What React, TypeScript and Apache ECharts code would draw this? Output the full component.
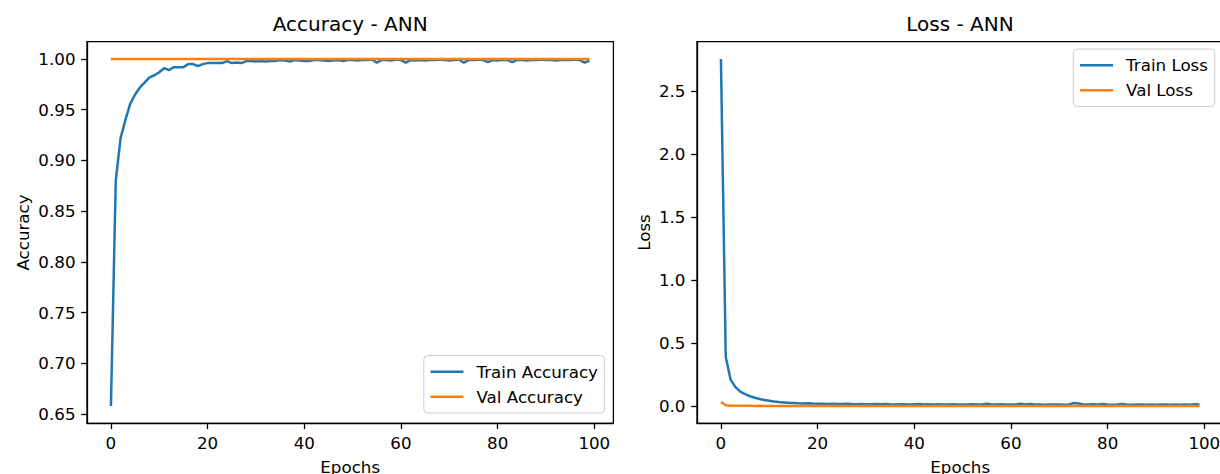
import React, { useEffect, useRef } from "react";
import * as echarts from "echarts";

// ---------- data ----------
const accTrain: number[] = [
  0.6579, 0.880, 0.922, 0.940, 0.956, 0.965, 0.972, 0.977, 0.982, 0.984,
  0.987, 0.991, 0.989, 0.992, 0.992, 0.992, 0.995, 0.995, 0.993, 0.995,
  0.996, 0.996, 0.996, 0.996, 0.998, 0.996, 0.9965, 0.996, 0.998, 0.998,
  0.9975, 0.998, 0.9975, 0.998, 0.998, 0.999, 0.9985, 0.9975, 0.999, 0.9985,
  0.998, 0.998, 0.999, 0.999, 0.9985, 0.998, 0.9985, 0.999, 0.998, 0.999,
  0.999, 0.9985, 0.999, 0.999, 0.9995, 0.9965, 0.999, 0.999, 0.9985, 0.9995,
  0.999, 0.9965, 0.999, 0.9985, 0.999, 0.9985, 0.999, 0.999, 0.9995, 0.999,
  0.9985, 0.999, 0.9995, 0.9965, 0.999, 0.999, 0.9995, 0.999, 0.997, 0.999,
  0.9985, 0.999, 0.999, 0.997, 0.999, 0.999, 0.9985, 0.999, 0.999, 0.9995,
  0.999, 0.999, 0.9985, 0.999, 0.999, 0.999, 0.9995, 0.999, 0.9965, 0.9985,
];
const accVal: number[] = [
  1, 1, 1, 1, 1, 1, 1, 1, 1, 1, 1, 1, 1, 1, 1, 1, 1, 1, 1, 1,
  1, 1, 1, 1, 1, 1, 1, 1, 1, 1, 1, 1, 1, 1, 1, 1, 1, 1, 1, 1,
  1, 1, 1, 1, 1, 1, 1, 1, 1, 1, 1, 1, 1, 1, 1, 1, 1, 1, 1, 1,
  1, 1, 1, 1, 1, 1, 1, 1, 1, 1, 1, 1, 1, 1, 1, 1, 1, 1, 1, 1,
  1, 1, 1, 1, 1, 1, 1, 1, 1, 1, 1, 1, 1, 1, 1, 1, 1, 1, 1, 1,
];
const lossTrain: number[] = [
  2.752, 0.39, 0.21, 0.15, 0.115, 0.095, 0.078, 0.066, 0.056, 0.048,
  0.042, 0.036, 0.032, 0.029, 0.026, 0.024, 0.022, 0.021, 0.023, 0.020,
  0.019, 0.018, 0.017, 0.019, 0.017, 0.016, 0.018, 0.016, 0.015, 0.016,
  0.015, 0.014, 0.016, 0.015, 0.017, 0.014, 0.013, 0.015, 0.014, 0.013,
  0.015, 0.016, 0.013, 0.014, 0.013, 0.015, 0.012, 0.013, 0.014, 0.012,
  0.013, 0.012, 0.014, 0.013, 0.012, 0.019, 0.013, 0.012, 0.014, 0.012,
  0.013, 0.012, 0.018, 0.013, 0.016, 0.012, 0.013, 0.011, 0.012, 0.013,
  0.012, 0.011, 0.013, 0.024, 0.021, 0.013, 0.012, 0.014, 0.012, 0.016,
  0.012, 0.011, 0.013, 0.016, 0.012, 0.011, 0.012, 0.013, 0.011, 0.012,
  0.011, 0.013, 0.012, 0.011, 0.012, 0.011, 0.012, 0.011, 0.015, 0.012,
];
const lossVal: number[] = [
  0.033, 0.006, 0.003, 0.002, 0.002, 0.002, 0.002, 0.001, 0.002, 0.001,
  0.001, 0.001, 0.001, 0.001, 0.001, 0.001, 0.001, 0.001, 0.001, 0.001,
  0.001, 0.001, 0.001, 0.001, 0.001, 0.001, 0.001, 0.001, 0.001, 0.001,
  0.001, 0.001, 0.001, 0.001, 0.001, 0.001, 0.001, 0.001, 0.001, 0.001,
  0.001, 0.001, 0.001, 0.001, 0.001, 0.001, 0.001, 0.001, 0.001, 0.001,
  0.001, 0.001, 0.001, 0.001, 0.001, 0.001, 0.001, 0.001, 0.001, 0.001,
  0.001, 0.001, 0.001, 0.001, 0.001, 0.001, 0.001, 0.001, 0.001, 0.001,
  0.001, 0.001, 0.001, 0.001, 0.001, 0.001, 0.001, 0.001, 0.001, 0.001,
  0.001, 0.001, 0.001, 0.001, 0.001, 0.001, 0.001, 0.001, 0.001, 0.001,
  0.001, 0.001, 0.001, 0.001, 0.001, 0.001, 0.001, 0.001, 0.001, 0.001,
];
const xTicks: number[] = [0, 20, 40, 60, 80, 100];
const accYTicks: number[] = [0.65, 0.7, 0.75, 0.8, 0.85, 0.9, 0.95, 1.0];
const lossYTicks: number[] = [0, 0.5, 1.0, 1.5, 2.0, 2.5];

const BLUE = "#1f77b4";
const ORANGE = "#ff7f0e";
const FONT = "DejaVu Sans";

function pad(arrs: number[][]): [number, number] {
  let lo = Infinity, hi = -Infinity;
  arrs.forEach((a) => a.forEach((v) => { lo = Math.min(lo, v); hi = Math.max(hi, v); }));
  const m = (hi - lo) * 0.05;
  return [lo - m, hi + m];
}

export default function App() {
  const ref = useRef<HTMLDivElement>(null);
  useEffect(() => {
    document.body.style.margin = "0";
    const chart = echarts.init(ref.current!, null, { renderer: "svg" });
    const n = accTrain.length;
    const xMin = -(n - 1) * 0.05;
    const xMax = (n - 1) * 1.05;
    const [aMin, aMax] = pad([accTrain, accVal]);
    const [lMin, lMax] = pad([lossTrain, lossVal]);
    const toPts = (a: number[]) => a.map((v, i) => [i, v]);

    const axisCommon = {
      axisLine: { show: true, onZero: false, lineStyle: { color: "#000", width: 1.3 } },
      splitLine: { show: false },
    };
    const xAxisFor = (gridIndex: number) => ({
      type: "value",
      gridIndex,
      min: xMin,
      max: xMax,
      ...axisCommon,
      name: "Epochs",
      nameLocation: "middle",
      nameGap: 35,
      nameTextStyle: { fontFamily: FONT, fontSize: 16.7, color: "#000" },
      axisTick: { show: true, length: 5.8, customValues: xTicks, lineStyle: { color: "#000", width: 1.3 } },
      axisLabel: {
        customValues: xTicks,
        margin: 11.5,
        fontFamily: FONT,
        fontSize: 16.7,
        color: "#000",
        formatter: (v: number) => String(Math.round(v)),
      },
    });
    const yAxisFor = (gridIndex: number, min: number, max: number, ticks: number[], name: string, gap: number, dec: number) => ({
      type: "value",
      gridIndex,
      min,
      max,
      ...axisCommon,
      name,
      nameLocation: "middle",
      nameGap: gap,
      nameTextStyle: { fontFamily: FONT, fontSize: 16.7, color: "#000" },
      axisTick: { show: true, length: 5.8, customValues: ticks, lineStyle: { color: "#000", width: 1.3 } },
      axisLabel: {
        customValues: ticks,
        margin: 11.5,
        fontFamily: FONT,
        fontSize: 16.7,
        color: "#000",
        formatter: (v: number) => v.toFixed(dec),
      },
    });
    const legendCommon = {
      orient: "vertical",
      icon: "rect",
      itemWidth: 33,
      itemHeight: 2.5,
      itemGap: 6,
      padding: [6.7, 6.7, 6.7, 6.7],
      backgroundColor: "rgba(255,255,255,0.8)",
      borderColor: "#cccccc",
      borderWidth: 1,
      borderRadius: 4,
      textStyle: { fontFamily: FONT, fontSize: 16.7, color: "#000", lineHeight: 19, padding: [0, 0, 0, 8] },
    };
    const lineSeries = (name: string, data: number[], color: string, idx: number) => ({
      type: "line",
      name,
      xAxisIndex: idx,
      yAxisIndex: idx,
      data: toPts(data),
      showSymbol: false,
      symbol: "none",
      color,
      lineStyle: { color, width: 2.5 },
      itemStyle: { color },
    });
    const gridCommon = {
      top: 41.7, width: 526.4, height: 381.6, show: true, borderColor: "#000", borderWidth: 1.3,
      containLabel: false, outerBoundsMode: "none",
    };

    chart.setOption({
      animation: false,
      backgroundColor: "#fff",
      title: [
        { text: "Accuracy - ANN", left: 350.2, top: 14, textAlign: "center", padding: 0,
          textStyle: { fontFamily: FONT, fontSize: 20, fontWeight: "normal", color: "#000" } },
        { text: "Loss - ANN", left: 960, top: 14, textAlign: "center", padding: 0,
          textStyle: { fontFamily: FONT, fontSize: 20, fontWeight: "normal", color: "#000" } },
      ],
      grid: [
        { ...gridCommon, left: 87 },
        { ...gridCommon, left: 697 },
      ],
      xAxis: [xAxisFor(0), xAxisFor(1)],
      yAxis: [
        yAxisFor(0, aMin, aMax, accYTicks, "Accuracy", 55.5, 2),
        yAxisFor(1, lMin, lMax, lossYTicks, "Loss", 45, 1),
      ],
      legend: [
        { ...legendCommon, data: ["Train Accuracy", "Val Accuracy"], right: 615.3, bottom: 61 },
        { ...legendCommon, data: ["Train Loss", "Val Loss"], right: 5.3, top: 49 },
      ],
      series: [
        lineSeries("Train Accuracy", accTrain, BLUE, 0),
        lineSeries("Val Accuracy", accVal, ORANGE, 0),
        lineSeries("Train Loss", lossTrain, BLUE, 1),
        lineSeries("Val Loss", lossVal, ORANGE, 1),
      ],
    });
    return () => chart.dispose();
  }, []);
  return <div ref={ref} style={{ width: 1220, height: 474 }} />;
}
